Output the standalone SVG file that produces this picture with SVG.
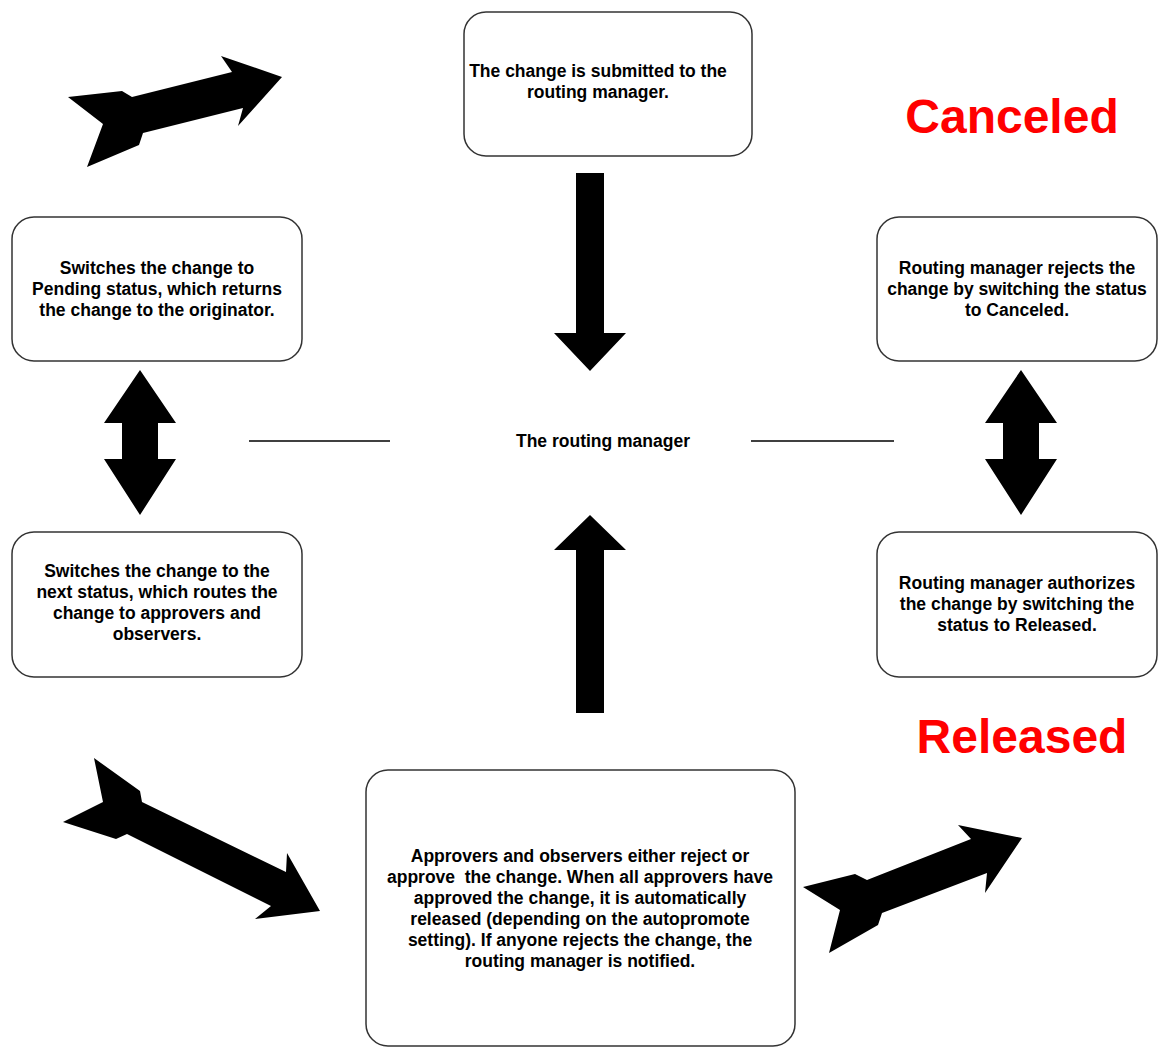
<svg xmlns="http://www.w3.org/2000/svg" width="1158" height="1049" viewBox="0 0 1158 1049">
<style>
.box{fill:#fff;stroke:#333;stroke-width:1.5}
.t{font-family:"Liberation Sans",Arial,sans-serif;font-weight:bold;font-size:17.5px;fill:#000;text-anchor:middle}
.big{font-family:"Liberation Sans",Arial,sans-serif;font-weight:bold;font-size:48px;fill:#ff0000;text-anchor:middle}
.arr{fill:#000}
.ln{stroke:#000;stroke-width:1.5}
</style>
<rect width="1158" height="1049" fill="#fff"/>
<g id="connectors">
<polygon class="arr" points="68,97 122,91 132,97 232,72 221,56 282,77 238,126 243,108 143,133 139,145 87,167 103,124"/>
<polygon class="arr" points="94,758 140,791 142,802 286,872 287,853 320,911 255,919 271,906 127,834 116,839 63,822 103,802"/>
<polygon class="arr" points="803,887 855,874 867,880 971,839 958,825 1022,838 985,893 987,873 882,913 878,925 829,953 840,910"/>
<polygon class="arr" points="576,173 604,173 604,333 626,333 590,371 554,333 576,333"/>
<polygon class="arr" points="576,713 604,713 604,550 626,550 590,515 554,550 576,550"/>
<polygon class="arr" points="140,370 176,423 158,423 158,459 176,459 140,515 104,459 122,459 122,423 104,423"/>
<polygon class="arr" points="1021,370 1057,423 1039,423 1039,459 1057,459 1021,515 985,459 1003,459 1003,423 985,423"/>
<line class="ln" x1="249" y1="441" x2="390" y2="441"/>
<line class="ln" x1="751" y1="441" x2="894" y2="441"/>
</g>
<g id="n-submit">
<rect class="box" x="464" y="12" width="288" height="144" rx="22"/>
<text class="t" x="598" y="77">The change is submitted to the</text>
<text class="t" x="598" y="98">routing manager.</text>
</g>
<g id="n-pending">
<rect class="box" x="12" y="217" width="290" height="144" rx="22"/>
<text class="t" x="157" y="274">Switches the change to</text>
<text class="t" x="157" y="295">Pending status, which returns</text>
<text class="t" x="157" y="316">the change to the originator.</text>
</g>
<g id="n-next">
<rect class="box" x="12" y="532" width="290" height="145" rx="22"/>
<text class="t" x="157" y="577">Switches the change to the</text>
<text class="t" x="157" y="598">next status, which routes the</text>
<text class="t" x="157" y="619">change to approvers and</text>
<text class="t" x="157" y="640">observers.</text>
</g>
<g id="n-reject">
<rect class="box" x="877" y="217" width="280" height="144" rx="22"/>
<text class="t" x="1017" y="274">Routing manager rejects the</text>
<text class="t" x="1017" y="295">change by switching the status</text>
<text class="t" x="1017" y="316">to Canceled.</text>
</g>
<g id="n-authorize">
<rect class="box" x="877" y="532" width="280" height="145" rx="22"/>
<text class="t" x="1017" y="589">Routing manager authorizes</text>
<text class="t" x="1017" y="610">the change by switching the</text>
<text class="t" x="1017" y="631">status to Released.</text>
</g>
<g id="n-approvers">
<rect class="box" x="366" y="770" width="429" height="276" rx="22"/>
<text class="t" x="580" y="862">Approvers and observers either reject or</text>
<text class="t" x="580" y="883" xml:space="preserve">approve  the change. When all approvers have</text>
<text class="t" x="580" y="904">approved the change, it is automatically</text>
<text class="t" x="580" y="925">released (depending on the autopromote</text>
<text class="t" x="580" y="946">setting). If anyone rejects the change, the</text>
<text class="t" x="580" y="967">routing manager is notified.</text>
</g>
<g id="n-center">
<text class="t" x="603" y="447">The routing manager</text>
</g>
<g id="n-canceled">
<text class="big" x="1012" y="133">Canceled</text>
</g>
<g id="n-released">
<text class="big" x="1022" y="753">Released</text>
</g>
</svg>
